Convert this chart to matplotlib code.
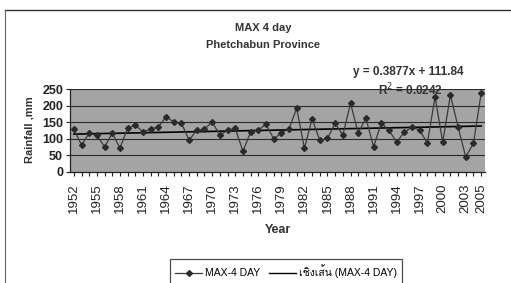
import numpy as np
import matplotlib
matplotlib.use("Agg")
import matplotlib.pyplot as plt
from matplotlib import font_manager, ft2font
from matplotlib.lines import Line2D

years = list(range(1952, 2006))
rainfall = [129, 81, 117, 110, 76, 117, 72, 132, 141, 121,
            129, 136, 166, 151, 147, 96, 126, 129, 151, 111,
            126, 132, 62, 121, 126, 144, 100, 117, 131, 192,
            71, 160, 96, 101, 147, 111, 207, 117, 162, 76,
            147, 126, 90, 120, 135, 126, 87, 226, 90, 232,
            135, 45, 87, 237]
yticks = [0, 50, 100, 150, 200, 250]
xlabel_years = [1952, 1955, 1958, 1961, 1964, 1967, 1970, 1973, 1976, 1979,
                1982, 1985, 1988, 1991, 1994, 1997, 2000, 2003, 2005]
title1 = "MAX 4 day"
title2 = "Phetchabun Province"
eq_text = "y = 0.3877x + 111.84"
r2_text = "R$^2$ = 0.0242"
series_label = "MAX-4 DAY"
trend_label = "เชิงเส้น (MAX-4 DAY)"

# find a font with Thai glyphs
thai_font = None
for f in font_manager.fontManager.ttflist:
    try:
        cm = ft2font.FT2Font(f.fname).get_charmap()
        if 0x0E40 in cm and 0x0E0A in cm:
            thai_font = f.name
            break
    except Exception:
        pass
base = "Liberation Sans"
fam = [base] + ([thai_font] if thai_font else []) + ["DejaVu Sans"]
plt.rcParams['font.family'] = fam

W, H = 511, 283
fig = plt.figure(figsize=(W / 100, H / 100), dpi=100)
fig.patch.set_facecolor("white")

L, R, T, B = 70, 485, 89, 172
ax = fig.add_axes([L / W, 1 - B / H, (R - L) / W, (B - T) / H])
ax.set_facecolor("#a4a4a4")

x = np.arange(len(years))
ax.set_xlim(-0.5, len(years) - 0.5)
ax.set_ylim(0, 250)
for v in yticks[1:]:
    ax.axhline(v, color="#2a2a2a", lw=0.8, zorder=1)

ax.plot(x, rainfall, color="#3a3a3a", lw=0.9, marker="D", ms=3,
        mfc="#2a2a2a", mec="#2a2a2a", zorder=3)
coef = np.polyfit(x + 1, rainfall, 1)
tr = np.polyval(coef, x + 1)
ax.plot(x, tr, color="black", lw=1.2, zorder=2)

for s in ["top", "right"]:
    ax.spines[s].set_visible(False)
for s in ["left", "bottom"]:
    ax.spines[s].set_color("#222222")
    ax.spines[s].set_linewidth(0.9)

ax.set_yticks(yticks)
ax.set_yticklabels([str(v) for v in yticks], fontsize=9, fontweight="bold",
                   color="#222222")
xt = [years.index(yv) for yv in xlabel_years]
ax.set_xticks(xt)
ax.set_xticklabels([str(yv) for yv in xlabel_years],
                   rotation=90, fontsize=9.5, color="#222222")
ax.set_xticks(x, minor=True)
ax.tick_params(axis="x", which="both", length=3, width=0.8, color="#222222", pad=5)
ax.tick_params(axis="y", length=3, width=0.8, color="#222222", pad=2)

fig.text(29 / W, 1 - 130 / H, "Rainfall ,mm", rotation=90, ha="center",
         va="center", fontsize=8, fontweight="bold", color="#333333")
fig.text(278 / W, 1 - 230 / H, "Year", ha="center", va="center",
         fontsize=9, fontweight="bold", color="#333333")
fig.text(263 / W, 1 - 28 / H, title1, ha="center", va="center",
         fontsize=8, fontweight="bold", color="#333333")
fig.text(263 / W, 1 - 45 / H, title2, ha="center", va="center",
         fontsize=8, fontweight="bold", color="#333333")
fig.text(408 / W, 1 - 72 / H, eq_text, ha="center", va="center",
         fontsize=8.5, fontweight="bold", color="#333333")
fig.text(410 / W, 1 - 90 / H, r2_text, ha="center", va="center",
         fontsize=8.5, fontweight="bold", color="#333333")

# chart border
fig.add_artist(Line2D([5 / W, 1], [1 - 10 / H, 1 - 10 / H], color="#333333",
                      lw=1.0, transform=fig.transFigure))
fig.add_artist(Line2D([5 / W, 5 / W], [0, 1 - 10 / H], color="#666666",
                      lw=0.8, transform=fig.transFigure))

h1 = Line2D([], [], color="#3a3a3a", lw=0.9, marker="D", ms=3,
            mfc="#2a2a2a", mec="#2a2a2a")
h2 = Line2D([], [], color="black", lw=1.0)
leg = fig.legend([h1, h2], [series_label, trend_label], ncol=2,
                 loc="upper center", bbox_to_anchor=(286 / W, 1 - 254 / H),
                 frameon=True, fancybox=False,
                 handlelength=2.6, columnspacing=0.8, handletextpad=0.3,
                 borderpad=0.5, prop={"family": fam, "size": 7.5})
leg.get_frame().set_edgecolor("#222222")
leg.get_frame().set_linewidth(0.9)

fig.savefig("out.png", dpi=100, facecolor="white")
